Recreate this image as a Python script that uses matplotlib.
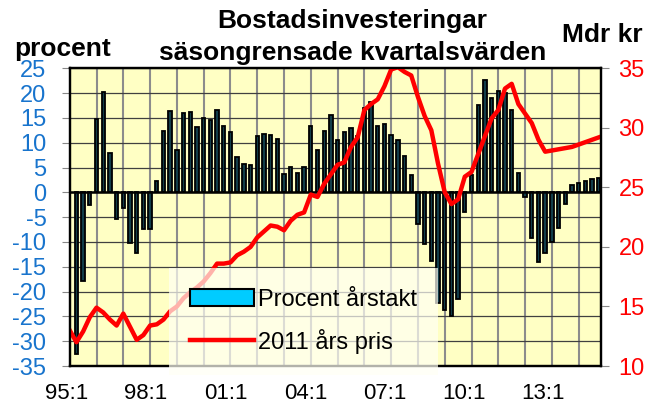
import numpy as np
import matplotlib
matplotlib.use("Agg")
import matplotlib.pyplot as plt
from matplotlib.patches import Patch
from matplotlib.lines import Line2D

plt.rcParams["font.family"] = ["Liberation Sans", "DejaVu Sans"]

# -----------------------------
# Data
# -----------------------------
# annual change in percent, quarterly from 1995:1
pct = [
    -32.6, -17.9, -2.6, 14.8, 20.3, 7.9, -5.4, -3.2, -10.2, -12.2,
    -7.3, -7.3, 2.3, 12.4, 16.5, 8.5, 16.0, 16.2, 13.1, 14.9,
    14.6, 16.6, 13.4, 12.1, 7.1, 5.8, 5.6, 11.4, 11.7, 11.6,
    10.7, 3.7, 5.2, 3.9, 5.1, 13.4, 8.6, 12.3, 15.6, 10.6,
    12.1, 13.0, 11.3, 17.0, 18.2, 13.4, 13.8, 11.6, 10.5, 7.4,
    3.5, -6.4, -10.5, -13.9, -22.3, -23.8, -25.0, -21.5, -4.0, 3.5,
    17.7, 22.6, 19.0, 20.5, 20.0, 16.6, 3.9, -0.9, -9.1, -14.1,
    -12.2, -10.1, -7.2, -2.3, 1.5, 1.9, 2.2, 2.6, 2.9,
]
# investment level, billion SEK in 2011 prices, quarterly from 1994:4
price = [
    13.0, 12.0, 12.9, 14.1, 14.9, 14.5, 13.9, 13.4, 14.4, 13.3,
    12.2, 12.6, 13.4, 13.5, 13.9, 14.6, 15.0, 15.7, 16.2, 16.6,
    17.1, 17.8, 18.6, 18.6, 18.7, 19.3, 19.6, 20.0, 20.8, 21.3,
    21.8, 21.7, 21.4, 22.2, 22.7, 22.9, 24.4, 24.2, 25.3, 26.1,
    26.9, 27.1, 28.4, 29.2, 31.5, 32.0, 32.4, 33.5, 34.9, 35.1,
    34.7, 34.4, 32.6, 31.0, 29.8, 27.0, 24.6, 23.6, 24.0, 25.9,
    26.3, 27.8, 29.3, 30.8, 31.5, 33.3, 33.7, 32.0, 31.2, 30.4,
    29.0, 28.0, 28.1, 28.2, 28.3, 28.4, 28.6, 28.8, 29.0, 29.2,
]
xlabels = ["95:1", "98:1", "01:1", "04:1", "07:1", "10:1", "13:1"]
left_ticks = list(range(-35, 30, 5))
right_ticks = list(range(10, 40, 5))

BLUE = "#1874cd"
RED = "#ff0000"

x_bar = np.arange(len(pct))
x_line = np.arange(len(price)) - 1

fig = plt.figure(figsize=(6.59, 4.07), dpi=100)
ax = fig.add_axes([0.1058, 0.1007, 0.8058, 0.7314])
ax.set_facecolor("#ffffc4")

ax.bar(x_bar, pct, width=0.5, color="#123d49", edgecolor="black",
       linewidth=1.3, zorder=3)
ax.axhline(0, color="black", lw=1.8, zorder=4)

ax.set_xlim(-1, 78.3)
ax.set_ylim(-35, 25)
ax.set_yticks(left_ticks)
ax.set_yticklabels([str(t) for t in left_ticks])
ax.set_xticks(np.arange(3, 78, 4))
ax.set_xticklabels([])
ax.tick_params(axis="x", length=0)
ax.tick_params(axis="y", length=5.8, color="#888888", labelsize=17,
               labelcolor=BLUE, pad=11)
ax.grid(axis="x", color="#8c8c8c", lw=1.5, zorder=1)
ax.grid(axis="y", color="#404040", lw=0.9, zorder=1)
ax.set_axisbelow(True)
for s in ax.spines.values():
    s.set_linewidth(1.6)

# category labels (sit a little left of the year starts, as in the original)
label_pos = [-1.5, 10.4, 22.3, 34.2, 46.1, 57.9, 69.7]
for pos, lab in zip(label_pos, xlabels):
    ax.text(pos, -0.094, lab, transform=ax.get_xaxis_transform(),
            ha="center", va="center", fontsize=16, clip_on=False)

ax2 = ax.twinx()
ax2.plot(x_line, price, color=RED, lw=3.2, solid_joinstyle="round")
ax2.set_ylim(10, 35)
ax2.set_yticks(right_ticks)
ax2.tick_params(axis="y", length=5.8, color="#888888", labelsize=17,
                labelcolor=RED, pad=7)
for s in ax2.spines.values():
    s.set_linewidth(1.6)

handles = [
    Patch(facecolor="#00ccff", edgecolor="black", linewidth=1.5),
    Line2D([0], [0], color=RED, lw=3.2),
]
leg = ax2.legend(handles, ["Procent årstakt", "2011 års pris"],
                 loc="center", bbox_to_anchor=(0.44, 0.15),
                 fontsize=17, frameon=True, handlelength=2.7,
                 handletextpad=0.15, labelspacing=0.75, borderpad=0.9,
                 fancybox=False)
leg.get_frame().set_facecolor("#fffff4")
leg.get_frame().set_alpha(0.7)
leg.get_frame().set_edgecolor("none")

fig.text(0.535, 1 - 28.3 / 407, "Bostadsinvesteringar", ha="center",
         va="baseline", fontsize=19, fontweight="bold")
fig.text(0.535, 1 - 60 / 407, "säsongrensade kvartalsvärden", ha="center",
         va="baseline", fontsize=19, fontweight="bold")
fig.text(14 / 659, 1 - 56 / 407, "procent", ha="left", va="baseline",
         fontsize=19, fontweight="bold")
fig.text(562 / 659, 1 - 41.7 / 407, "Mdr kr", ha="left", va="baseline",
         fontsize=19, fontweight="bold")

fig.savefig("out.png", dpi=100)
